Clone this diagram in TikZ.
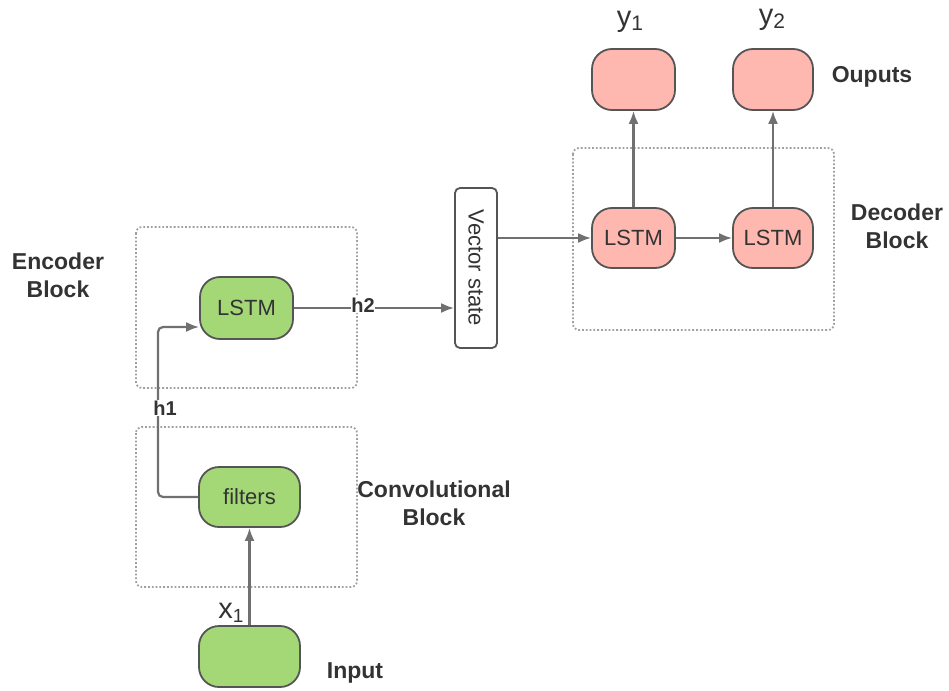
\documentclass[tikz,border=0pt]{standalone}
\usepackage{fontspec}
\setmainfont{Liberation Sans}
\usetikzlibrary{arrows.meta}
\definecolor{gfill}{HTML}{A4D877}
\definecolor{pfill}{HTML}{FFB8AF}
\definecolor{edge}{HTML}{555555}
\definecolor{arr}{HTML}{707070}
\definecolor{dots}{HTML}{A0A0A0}
\definecolor{txt}{HTML}{333333}
\tikzset{
  blob/.style={draw=edge, line width=1.8pt, rounded corners=20pt, inner sep=0pt, text=txt, font=\fontsize{22}{24}\selectfont},
  gblob/.style={blob, fill=gfill},
  pblob/.style={blob, fill=pfill},
  blockbox/.style={draw=dots, line width=1.8pt, dotted, rounded corners=6pt},
  conn/.style={draw=arr, line width=2.2pt, -{Latex[length=13pt,width=10pt]}},
  lbl/.style={text=txt, font=\bfseries\fontsize{23}{28}\selectfont, align=center},
  hl/.style={text=txt, font=\bfseries\fontsize{20}{22}\selectfont, inner sep=0.5pt},
  ylbl/.style={text=txt, font=\fontsize{29}{32}\selectfont, inner sep=0pt}
}
\begin{document}
\begin{tikzpicture}[x=1pt,y=-1pt]
\useasboundingbox (0,0) rectangle (949,690);
% dotted blocks
\draw[blockbox] (136,227) rectangle (357,388);
\draw[blockbox] (136,427) rectangle (357,587);
\draw[blockbox] (573,148) rectangle (834,330);
% nodes
\node[gblob, minimum width=93pt, minimum height=62pt] (enc) at (246.5,308) {LSTM};
\node[gblob, minimum width=101pt, minimum height=60pt] (filt) at (249.5,497) {filters};
\node[gblob, minimum width=101pt, minimum height=61pt] (inp) at (249.5,656.5) {};
\node[draw=edge, line width=1.8pt, rounded corners=5pt, minimum width=42pt, minimum height=160pt, inner sep=0pt] (vec) at (476,268) {};
\node[rotate=-90, text=txt, font=\fontsize{22}{24}\selectfont] (vect) at (vec.center) {Vector state};
\node[pblob, minimum width=83pt, minimum height=60pt] (d1) at (633.5,238) {LSTM};
\node[pblob, minimum width=80pt, minimum height=60pt] (d2) at (773,238) {LSTM};
\node[pblob, minimum width=83pt, minimum height=61pt] (o1) at (633.5,79.5) {};
\node[pblob, minimum width=80pt, minimum height=61pt] (o2) at (773,79.5) {};
% connectors
\coordinate (h1c) at (158,327);
\draw[conn, rounded corners=5pt] (filt.west) -| (h1c) -- (enc.west |- h1c);
\draw[conn] (enc.east) -- (enc.east -| vec.west);
\draw[conn] (vec.east |- d1.west) -- (d1.west);
\draw[conn] (d1.east) -- (d2.west);
\draw[conn] (d1.north) -- (o1.south);
\draw[conn] (d2.north) -- (o2.south);
\draw[conn] (inp.north) -- (filt.south);
% labels
\node[hl, fill=white] (h2) at (363,305) {h2};
\node[hl, fill=white] (h1) at (165,408) {h1};
\node[ylbl] (y1) at (630,22) {y\raisebox{-0.25ex}{\fontsize{21}{22}\selectfont 1}};
\node[ylbl] (y2) at (772,20) {y\raisebox{-0.25ex}{\fontsize{21}{22}\selectfont 2}};
\node[ylbl] (x1) at (231,613) {x\raisebox{-0.3ex}{\fontsize{19}{20}\selectfont 1}};
\node[lbl] (encl) at (58,275) {Encoder\\Block};
\node[lbl] (convl) at (434,503) {Convolutional\\Block};
\node[lbl] (inpl) at (355,673) {Input};
\node[lbl] (outl) at (872,77) {Ouputs};
\node[lbl] (decl) at (897,226) {Decoder\\Block};
\end{tikzpicture}
\end{document}
